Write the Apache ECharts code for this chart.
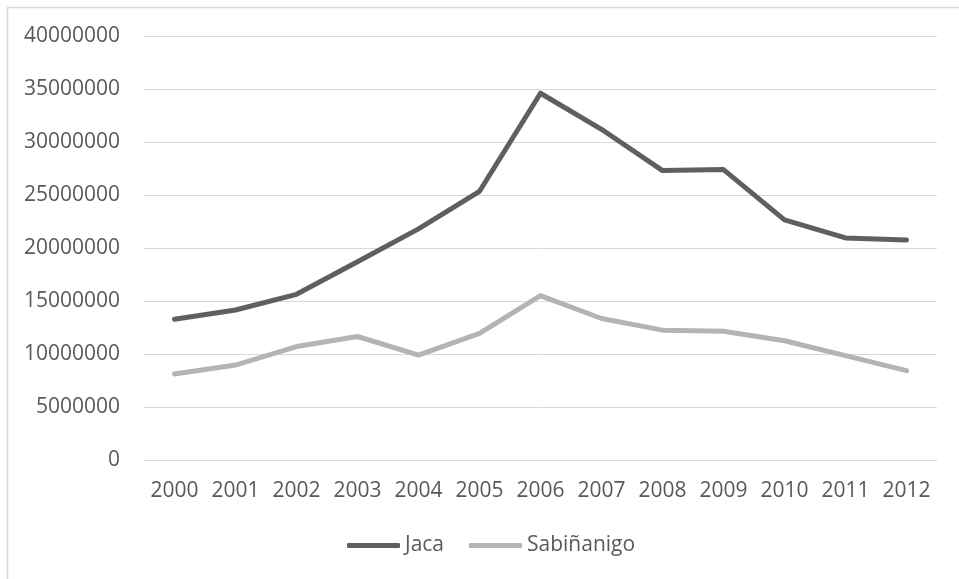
<!DOCTYPE html>
<html>
<head>
<meta charset="utf-8">
<script src="https://cdn.jsdelivr.net/npm/echarts@6/dist/echarts.min.js"></script>
<style>
  html, body { margin: 0; padding: 0; background: #fff; }
  #chart { width: 959px; height: 579px; }
</style>
</head>
<body>
<div id="chart"></div>
<script>
// datos
var years = ['2000','2001','2002','2003','2004','2005','2006','2007','2008','2009','2010','2011','2012'];
var jaca = [13270000, 14150000, 15630000, 18700000, 21800000, 25350000, 34600000, 31200000, 27300000, 27400000, 22650000, 20950000, 20750000];
var sabinanigo = [8120000, 8960000, 10700000, 11650000, 9900000, 11950000, 15500000, 13350000, 12250000, 12150000, 11250000, 9840000, 8430000];
var yTicks = { min: 0, max: 40000000, step: 5000000 };

var myChart = echarts.init(document.getElementById('chart'));
var txt = '#595959';
var font = 'Open Sans';

var option = {
    backgroundColor: '#fff',
    animation: false,
    graphic: [{
        type: 'rect',
        shape: { x: 7.5, y: 7.5, width: 1000, height: 1000 },
        style: { fill: 'none', stroke: '#d9d9d9', lineWidth: 1.5 },
        silent: true
    }],
    grid: { left: 144, right: 22, top: 36, bottom: 119 },
    legend: {
        bottom: 18,
        left: 342,
        icon: 'roundRect',
        itemWidth: 53,
        itemHeight: 5,
        itemGap: 25,
        textStyle: { color: txt, fontSize: 21, fontFamily: font },
        data: ['Jaca', 'Sabiñanigo']
    },
    xAxis: {
        type: 'category',
        data: years,
        boundaryGap: true,
        axisLine: { lineStyle: { color: '#d9d9d9', width: 1 } },
        axisTick: { show: false },
        axisLabel: { color: txt, fontSize: 21, fontFamily: font, margin: 21, interval: 0 }
    },
    yAxis: {
        type: 'value',
        min: yTicks.min,
        max: yTicks.max,
        interval: yTicks.step,
        axisLine: { show: false },
        axisTick: { show: false },
        splitLine: { lineStyle: { color: '#d9d9d9', width: 1 } },
        axisLabel: { color: txt, fontSize: 21, fontFamily: font, margin: 24,
            formatter: function (v) { return String(v); } }
    },
    series: [{
        name: 'Jaca',
        type: 'line',
        data: jaca,
        symbol: 'none',
        lineStyle: { color: '#5f5f5f', width: 5, cap: 'round', join: 'round' },
        itemStyle: { color: '#5f5f5f' }
    }, {
        name: 'Sabiñanigo',
        type: 'line',
        data: sabinanigo,
        symbol: 'none',
        lineStyle: { color: '#b4b4b4', width: 5, cap: 'round', join: 'round' },
        itemStyle: { color: '#b4b4b4' }
    }]
};
myChart.setOption(option);
</script>
</body>
</html>
